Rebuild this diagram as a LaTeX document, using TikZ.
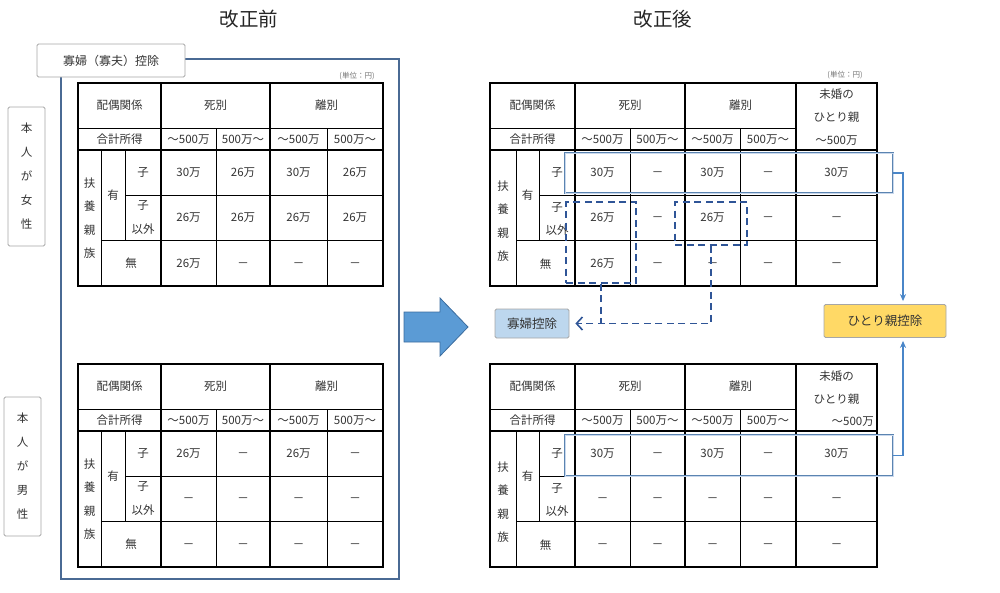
\documentclass[tikz,border=0pt]{standalone}
\usepackage{fontspec}
\setmainfont{Noto Sans CJK JP}
\usetikzlibrary{arrows.meta}
\definecolor{framec}{HTML}{4A6A94}
\definecolor{hlc}{HTML}{5B84B1}
\definecolor{hlin}{HTML}{C9D8EC}
\definecolor{dashc}{HTML}{2F5597}
\definecolor{linkc}{HTML}{4A86C8}
\definecolor{arrowc}{HTML}{5B9BD5}
\definecolor{arrowd}{HTML}{3B6C9E}
\definecolor{soleyel}{HTML}{FFD966}
\definecolor{widowblu}{HTML}{BDD7EE}
\tikzset{
  txt/.style={inner sep=0pt, text=black!80, font=\fontsize{11.5}{12}\selectfont},
  cell/.style={txt, text height=10pt, text depth=1.5pt},
  vcell/.style={txt, align=center, font=\fontsize{11.5}{23.5}\selectfont},
  small/.style={inner sep=0pt, text=black!55, font=\fontsize{7.5}{8}\selectfont},
  title/.style={inner sep=0pt, text=black!85, font=\fontsize{19.5}{20}\selectfont},
  thin/.style={line width=0.7pt},
  heavy/.style={line width=1.8pt},
  tag/.style={draw=black!35, fill=white, rounded corners=1.5pt, line width=0.8pt, inner sep=0pt,
    text=black!80, font=\fontsize{12}{12}\selectfont},
  sidebox/.style={tag, align=center, font=\fontsize{11.5}{24}\selectfont},
  hlbox/.style={draw=hlc, double=hlin, double distance=1pt, line width=0.9pt, inner sep=0pt},
  dashbox/.style={draw=dashc, line width=1.6pt, dash pattern=on 7pt off 4.5pt, inner sep=0pt},
  link/.style={draw=linkc, line width=1.3pt, -{Stealth[length=7pt,width=6pt]}, shorten >=3pt},
  dlink/.style={draw=dashc, line width=1.6pt, dash pattern=on 7pt off 4.5pt},
}
\begin{document}
\begin{tikzpicture}[x=1pt,y=-1pt]
\useasboundingbox (0,0) rectangle (1000,592);
\node[title] (before) at (249,19) {改正前};
\node[title] (after) at (663,19) {改正後};
% frame of the old deduction
\draw[framec, line width=1.2pt] (61,59) rectangle (399,579);
\node[tag, minimum width=148pt, minimum height=33pt] (oldtag) at (111,60.5) {寡婦（寡夫）控除};
\node[sidebox, minimum width=37pt, minimum height=139pt] (female) at (26.5,176.5) {本\\人\\が\\女\\性};
\node[sidebox, minimum width=37pt, minimum height=139pt] (male) at (22.5,466.5) {本\\人\\が\\男\\性};
\node[small] (unitL) at (357,76) {(単位：円)};
\node[small] (unitR) at (845,75) {(単位：円)};
% left top table
\draw[thin] (78,128) -- (383,128);
\draw[thin] (125,195) -- (383,195);
\draw[thin] (101,240) -- (383,240);
\draw[thin] (101,150) -- (101,286);
\draw[thin] (125,150) -- (125,240);
\draw[thin] (216,128) -- (216,286);
\draw[thin] (327,128) -- (327,286);
\draw[heavy] (78,150) -- (383,150);
\draw[heavy] (161,83) -- (161,286);
\draw[heavy] (270,83) -- (270,286);
\draw[heavy] (78,83) rectangle (383,286);
\node[cell] (ltH1) at (119.5,105.5) {配偶関係};
\node[cell] (ltH2) at (215.5,105.5) {死別};
\node[cell] (ltH3) at (326.5,105.5) {離別};
\node[cell] (ltI0) at (119.5,139) {合計所得};
\node[cell] (ltI1) at (188.5,139) {～500万};
\node[cell] (ltI2) at (243,139) {500万～};
\node[cell] (ltI3) at (298.5,139) {～500万};
\node[cell] (ltI4) at (355,139) {500万～};
\node[vcell] (ltF) at (89.5,218) {扶\\養\\親\\族};
\node[cell] (ltY) at (113,195) {有};
\node[cell] (ltK) at (143,172.5) {子};
\node[vcell] (ltKo) at (143,217.5) {子\\以外};
\node[cell] (ltN) at (131,263) {無};
\node[cell] (lt11) at (188.5,172.5) {30万};
\node[cell] (lt12) at (243,172.5) {26万};
\node[cell] (lt13) at (298.5,172.5) {30万};
\node[cell] (lt14) at (355,172.5) {26万};
\node[cell] (lt21) at (188.5,217.5) {26万};
\node[cell] (lt22) at (243,217.5) {26万};
\node[cell] (lt23) at (298.5,217.5) {26万};
\node[cell] (lt24) at (355,217.5) {26万};
\node[cell] (lt31) at (188.5,263) {26万};
\node[cell] (lt32) at (243,263) {－};
\node[cell] (lt33) at (298.5,263) {－};
\node[cell] (lt34) at (355,263) {－};
% left bottom table
\draw[thin] (78,409) -- (383,409);
\draw[thin] (125,476) -- (383,476);
\draw[thin] (101,521) -- (383,521);
\draw[thin] (101,431) -- (101,567);
\draw[thin] (125,431) -- (125,521);
\draw[thin] (216,409) -- (216,567);
\draw[thin] (327,409) -- (327,567);
\draw[heavy] (78,431) -- (383,431);
\draw[heavy] (161,364) -- (161,567);
\draw[heavy] (270,364) -- (270,567);
\draw[heavy] (78,364) rectangle (383,567);
\node[cell] (lbH1) at (119.5,386.5) {配偶関係};
\node[cell] (lbH2) at (215.5,386.5) {死別};
\node[cell] (lbH3) at (326.5,386.5) {離別};
\node[cell] (lbI0) at (119.5,420) {合計所得};
\node[cell] (lbI1) at (188.5,420) {～500万};
\node[cell] (lbI2) at (243,420) {500万～};
\node[cell] (lbI3) at (298.5,420) {～500万};
\node[cell] (lbI4) at (355,420) {500万～};
\node[vcell] (lbF) at (89.5,499) {扶\\養\\親\\族};
\node[cell] (lbY) at (113,476) {有};
\node[cell] (lbK) at (143,453.5) {子};
\node[vcell] (lbKo) at (143,498.5) {子\\以外};
\node[cell] (lbN) at (131,544) {無};
\node[cell] (lb11) at (188.5,453.5) {26万};
\node[cell] (lb12) at (243,453.5) {－};
\node[cell] (lb13) at (298.5,453.5) {26万};
\node[cell] (lb14) at (355,453.5) {－};
\node[cell] (lb21) at (188.5,498.5) {－};
\node[cell] (lb22) at (243,498.5) {－};
\node[cell] (lb23) at (298.5,498.5) {－};
\node[cell] (lb24) at (355,498.5) {－};
\node[cell] (lb31) at (188.5,544) {－};
\node[cell] (lb32) at (243,544) {－};
\node[cell] (lb33) at (298.5,544) {－};
\node[cell] (lb34) at (355,544) {－};
% big arrow
\filldraw[fill=arrowc, draw=arrowd, line width=0.8pt] (404,312) -- (440,312) -- (440,298) -- (468,327)
  -- (440,356) -- (440,342) -- (404,342) -- cycle;
% right top table
\draw[thin] (490,128) -- (796,128);
\draw[thin] (539,195) -- (877,195);
\draw[thin] (516,240) -- (877,240);
\draw[thin] (516,150) -- (516,286);
\draw[thin] (539,150) -- (539,240);
\draw[thin] (630,128) -- (630,286);
\draw[thin] (740,128) -- (740,286);
\draw[heavy] (490,150) -- (877,150);
\draw[heavy] (575,83) -- (575,286);
\draw[heavy] (685,83) -- (685,286);
\draw[heavy] (796,83) -- (796,286);
\draw[heavy] (490,83) rectangle (877,286);
\node[cell] (rtH1) at (532.5,105.5) {配偶関係};
\node[cell] (rtH2) at (630,105.5) {死別};
\node[cell] (rtH3) at (740.5,105.5) {離別};
\node[cell] (rtH4a) at (836.5,94) {未婚の};
\node[cell] (rtH4b) at (836.5,117) {ひとり親};
\node[cell] (rtH4c) at (836.5,140) {～500万};
\node[cell] (rtI0) at (532.5,139) {合計所得};
\node[cell] (rtI1) at (602.5,139) {～500万};
\node[cell] (rtI2) at (657.5,139) {500万～};
\node[cell] (rtI3) at (712.5,139) {～500万};
\node[cell] (rtI4) at (768,139) {500万～};
\node[vcell] (rtF) at (503,221) {扶\\養\\親\\族};
\node[cell] (rtY) at (527.5,195) {有};
\node[cell] (rtK) at (557,172.5) {子};
\node[vcell] (rtKo) at (557,219) {子\\以外};
\node[cell] (rtN) at (545.5,264) {無};
\node[cell] (rt11) at (602.5,172.5) {30万};
\node[cell] (rt12) at (657.5,172.5) {－};
\node[cell] (rt13) at (712.5,172.5) {30万};
\node[cell] (rt14) at (768,172.5) {－};
\node[cell] (rt15) at (836.5,172.5) {30万};
\node[cell] (rt21) at (602.5,217.5) {26万};
\node[cell] (rt22) at (657.5,217.5) {－};
\node[cell] (rt23) at (712.5,217.5) {26万};
\node[cell] (rt24) at (768,217.5) {－};
\node[cell] (rt25) at (836.5,217.5) {－};
\node[cell] (rt31) at (602.5,263) {26万};
\node[cell] (rt32) at (657.5,263) {－};
\node[cell] (rt33) at (712.5,263) {－};
\node[cell] (rt34) at (768,263) {－};
\node[cell] (rt35) at (836.5,263) {－};
% right bottom table
\draw[thin] (490,409) -- (796,409);
\draw[thin] (539,476) -- (877,476);
\draw[thin] (516,521) -- (877,521);
\draw[thin] (516,431) -- (516,567);
\draw[thin] (539,431) -- (539,521);
\draw[thin] (630,409) -- (630,567);
\draw[thin] (740,409) -- (740,567);
\draw[heavy] (490,431) -- (877,431);
\draw[heavy] (575,364) -- (575,567);
\draw[heavy] (685,364) -- (685,567);
\draw[heavy] (796,364) -- (796,567);
\draw[heavy] (490,364) rectangle (877,567);
\node[cell] (rbH1) at (532.5,386.5) {配偶関係};
\node[cell] (rbH2) at (630,386.5) {死別};
\node[cell] (rbH3) at (740.5,386.5) {離別};
\node[cell] (rbH4a) at (836.5,376) {未婚の};
\node[cell] (rbH4b) at (836.5,399) {ひとり親};
\node[cell, anchor=east] (rbH4c) at (874,421) {～500万};
\node[cell] (rbI0) at (532.5,420) {合計所得};
\node[cell] (rbI1) at (602.5,420) {～500万};
\node[cell] (rbI2) at (657.5,420) {500万～};
\node[cell] (rbI3) at (712.5,420) {～500万};
\node[cell] (rbI4) at (768,420) {500万～};
\node[vcell] (rbF) at (503,502) {扶\\養\\親\\族};
\node[cell] (rbY) at (527.5,476) {有};
\node[cell] (rbK) at (557,453.5) {子};
\node[vcell] (rbKo) at (557,500) {子\\以外};
\node[cell] (rbN) at (545.5,545) {無};
\node[cell] (rb11) at (602.5,453.5) {30万};
\node[cell] (rb12) at (657.5,453.5) {－};
\node[cell] (rb13) at (712.5,453.5) {30万};
\node[cell] (rb14) at (768,453.5) {－};
\node[cell] (rb15) at (836.5,453.5) {30万};
\node[cell] (rb21) at (602.5,498.5) {－};
\node[cell] (rb22) at (657.5,498.5) {－};
\node[cell] (rb23) at (712.5,498.5) {－};
\node[cell] (rb24) at (768,498.5) {－};
\node[cell] (rb25) at (836.5,498.5) {－};
\node[cell] (rb31) at (602.5,544) {－};
\node[cell] (rb32) at (657.5,544) {－};
\node[cell] (rb33) at (712.5,544) {－};
\node[cell] (rb34) at (768,544) {－};
\node[cell] (rb35) at (836.5,544) {－};
% highlights and links
\node[hlbox, minimum width=328pt, minimum height=40pt] (hlT) at (729,173) {};
\node[hlbox, minimum width=328pt, minimum height=41pt] (hlB) at (729,455.5) {};
\node[dashbox, minimum width=70pt, minimum height=81pt] (db1) at (601,242.5) {};
\node[dashbox, minimum width=72pt, minimum height=43pt] (db2) at (711,223.5) {};
\node[tag, fill=widowblu, minimum width=74pt, minimum height=29pt, font=\fontsize{12.5}{13}\selectfont] (widow) at (532,323.5) {寡婦控除};
\node[tag, fill=soleyel, minimum width=122pt, minimum height=33pt, font=\fontsize{12.5}{13}\selectfont] (sole) at (885,321) {ひとり親控除};
\draw[dlink, -{Straight Barb[length=6pt,width=13pt,line width=1.6pt]}, shorten >=6pt] (db2.south) |- (widow.east);
\draw[dlink] (db1.south) -- (db1.south |- widow.east);
\coordinate (tapT) at (903,173);
\coordinate (tapB) at (903,455.5);
\draw[link] (hlT.east) -- (tapT) -- (tapT |- sole.north);
\draw[link] (hlB.east) -- (tapB) -- (tapB |- sole.south);
\end{tikzpicture}
\end{document}
